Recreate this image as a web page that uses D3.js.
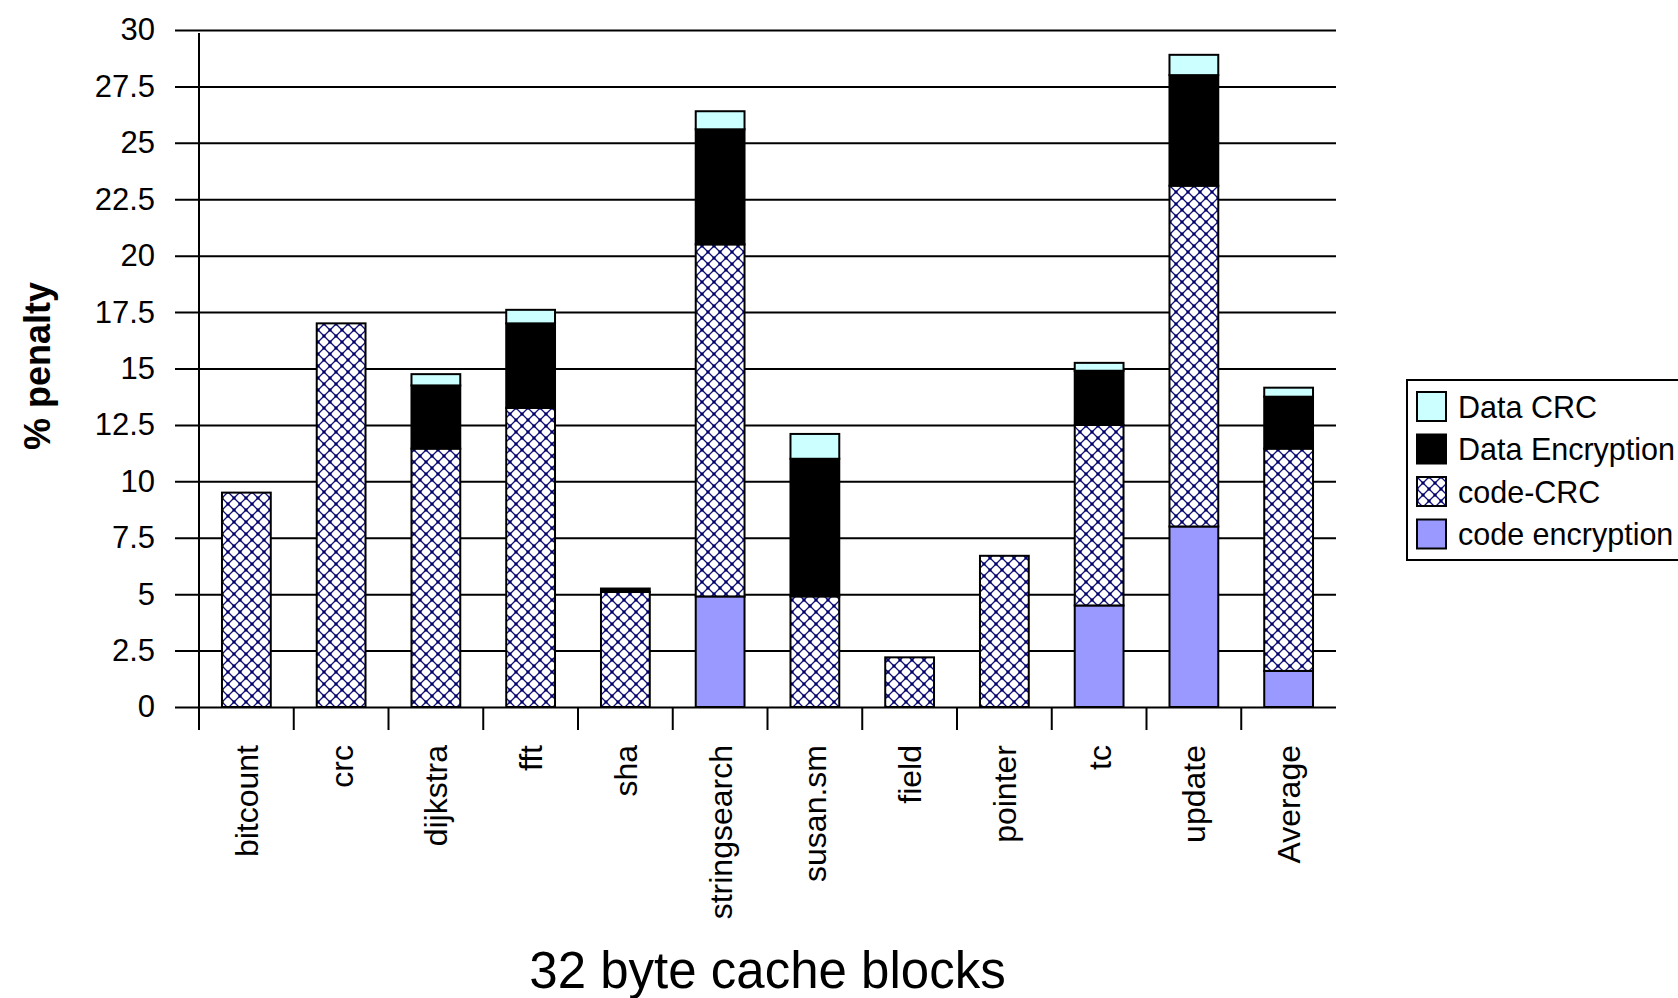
<!DOCTYPE html>
<html>
<head>
<meta charset="utf-8">
<script src="https://cdn.jsdelivr.net/npm/d3@7"></script>
<style>
  html, body { margin: 0; padding: 0; background: #fff; }
  svg { display: block; }
  text { font-family: "Liberation Sans", Arial, sans-serif; fill: #000; }
</style>
</head>
<body>
<svg id="chart" width="1678" height="998"></svg>
<script>
// Benchmarks (32 byte cache blocks)
const categories = ["bitcount", "crc", "dijkstra", "fft", "sha", "stringsearch",
                    "susan.sm", "field", "pointer", "tc", "update", "Average"];

// Penalty components, % (stacked bottom to top)
const codeEncryption = [0, 0, 0, 0, 0, 4.9, 0, 0, 0, 4.5, 8.0, 1.6];
const codeCRC        = [9.5, 17.0, 11.45, 13.25, 5.1, 15.6, 4.9, 2.2, 6.7, 8.0, 15.1, 9.85];
const dataEncryption = [0, 0, 2.8, 3.75, 0.15, 5.1, 6.1, 0, 0, 2.4, 4.9, 2.3];
const dataCRC        = [0, 0, 0.5, 0.6, 0, 0.8, 1.1, 0, 0, 0.35, 0.9, 0.4];

const seriesNames = ["code encryption", "code-CRC", "Data Encryption", "Data CRC"];
const legendOrder = ["Data CRC", "Data Encryption", "code-CRC", "code encryption"];

const yTicks = [0, 2.5, 5, 7.5, 10, 12.5, 15, 17.5, 20, 22.5, 25, 27.5, 30];

const yLabel = "% penalty";
const xLabel = "32 byte cache blocks";

const svg = d3.select("#chart");

const plot = { left: 199, right: 1336, top: 30, bottom: 707 };

const x = d3.scaleBand().domain(categories).range([plot.left, plot.right]).padding(0);
const y = d3.scaleLinear().domain([0, 30]).range([plot.bottom, plot.top]);

// Pattern for code-CRC: diagonal trellis with dots at the crossings
const defs = svg.append("defs");
const pat = defs.append("pattern")
  .attr("id", "trellis")
  .attr("patternUnits", "userSpaceOnUse")
  .attr("width", 12).attr("height", 12);
pat.append("rect").attr("width", 12).attr("height", 12).attr("fill", "#fff");
pat.append("path")
  .attr("d", "M0,0L12,12M12,0L0,12")
  .attr("stroke", "#10107a").attr("stroke-width", 1.3).attr("fill", "none");
pat.append("rect").attr("x", 4.5).attr("y", 4.5).attr("width", 3).attr("height", 3).attr("fill", "#000066");
[[0, 0], [12, 0], [0, 12], [12, 12]].forEach(([cx, cy]) => {
  pat.append("rect").attr("x", cx - 1.5).attr("y", cy - 1.5).attr("width", 3).attr("height", 3).attr("fill", "#000066");
});

const fills = {
  "code encryption": "#9999ff",
  "code-CRC": "url(#trellis)",
  "Data Encryption": "#000000",
  "Data CRC": "#ccffff"
};

// Horizontal gridlines and y tick labels
const yAxis = d3.axisLeft(y)
  .tickValues(yTicks)
  .tickSize(-(plot.right - 175))
  .tickPadding(20)
  .tickFormat(d3.format(""));
const gy = svg.append("g").attr("transform", "translate(175,0)").call(yAxis);
gy.select(".domain").remove();
gy.selectAll(".tick line").attr("stroke", "#000").attr("stroke-width", 2);
gy.selectAll(".tick text")
  .style("font-family", "'Liberation Sans', Arial, sans-serif")
  .style("font-size", "31px")
  .attr("fill", "#000");

// Stacked bars
const table = categories.map((c, i) => ({
  cat: c,
  "code encryption": codeEncryption[i],
  "code-CRC": codeCRC[i],
  "Data Encryption": dataEncryption[i],
  "Data CRC": dataCRC[i]
}));
const stacked = d3.stack().keys(seriesNames)(table);

const barW = x.bandwidth() * 0.515;
const barOff = (x.bandwidth() - barW) / 2;

svg.append("g").selectAll("g")
  .data(stacked)
  .join("g")
  .attr("fill", d => fills[d.key])
  .selectAll("rect")
  .data(d => d.filter(s => s[1] - s[0] > 0))
  .join("rect")
  .attr("x", d => x(d.data.cat) + barOff)
  .attr("y", d => y(d[1]))
  .attr("width", barW)
  .attr("height", d => y(d[0]) - y(d[1]))
  .attr("stroke", "#000")
  .attr("stroke-width", 2);

// Vertical axis line
svg.append("line")
  .attr("x1", plot.left).attr("x2", plot.left)
  .attr("y1", plot.top + 3).attr("y2", plot.bottom + 23)
  .attr("stroke", "#000").attr("stroke-width", 2);

// Category separator ticks
svg.append("g").selectAll("line")
  .data(categories)
  .join("line")
  .attr("x1", d => x(d)).attr("x2", d => x(d))
  .attr("y1", plot.bottom).attr("y2", plot.bottom + 23)
  .attr("stroke", "#000").attr("stroke-width", 2);

// Category labels
const xAxis = d3.axisBottom(x).tickSize(0);
const gx = svg.append("g").attr("transform", `translate(0,${plot.bottom})`).call(xAxis);
gx.select(".domain").remove();
gx.selectAll(".tick text")
  .style("font-family", "'Liberation Sans', Arial, sans-serif")
  .style("font-size", "32px")
  .attr("fill", "#000")
  .attr("text-anchor", "end")
  .attr("transform", "rotate(-90)")
  .attr("x", -38)
  .attr("y", 0)
  .attr("dy", "0.36em");

// Axis titles
svg.append("text")
  .attr("transform", `translate(50,366) rotate(-90)`)
  .attr("text-anchor", "middle")
  .style("font-size", "36px")
  .style("font-weight", "bold")
  .text(yLabel);

svg.append("text")
  .attr("x", (plot.left + plot.right) / 2)
  .attr("y", 988)
  .attr("text-anchor", "middle")
  .style("font-size", "51px")
  .text(xLabel);

// Legend
const legend = svg.append("g").attr("transform", "translate(1407,380)");
legend.append("rect")
  .attr("x", 0).attr("y", 0)
  .attr("width", 300).attr("height", 180)
  .attr("fill", "#fff").attr("stroke", "#000").attr("stroke-width", 2);
const li = legend.selectAll("g.item")
  .data(legendOrder)
  .join("g")
  .attr("class", "item")
  .attr("transform", (d, i) => `translate(10,${12 + i * 42.5})`);
li.append("rect")
  .attr("width", 29).attr("height", 29)
  .attr("fill", d => fills[d])
  .attr("stroke", "#000").attr("stroke-width", 2);
li.append("text")
  .attr("x", 41).attr("y", 15)
  .attr("dy", "0.36em")
  .style("font-size", "30.5px")
  .text(d => d);
</script>
</body>
</html>
